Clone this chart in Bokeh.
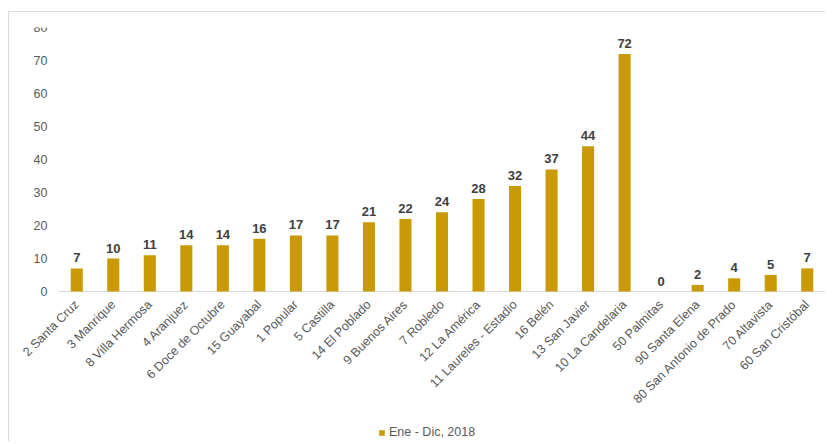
from bokeh.plotting import figure
from bokeh.models import ColumnDataSource, Legend, LegendItem, LabelSet, FixedTicker, Range1d
from bokeh.embed import file_html
from bokeh.resources import INLINE
from bokeh.core.properties import value
import math

comunas = ["2 Santa Cruz", "3 Manrique", "8 Villa Hermosa", "4 Aranjuez", "6 Doce de Octubre",
           "15 Guayabal", "1 Popular", "5 Castilla", "14 El Poblado", "9 Buenos Aires",
           "7 Robledo", "12 La América", "11 Laureles - Estadio", "16 Belén", "13 San Javier",
           "10 La Candelaria", "50 Palmitas", "90 Santa Elena", "80 San Antonio de Prado",
           "70 Altavista", "60 San Cristóbal"]
casos = [7, 10, 11, 14, 14, 16, 17, 17, 21, 22, 24, 28, 32, 37, 44, 72, 0, 2, 4, 5, 7]
serie = "Ene - Dic, 2018"
y_ticks = [0, 10, 20, 30, 40, 50, 60, 70, 80]

GOLD = "#C99A06"
FONT = "Liberation Sans"

n = len(comunas)
pos = list(range(n))

# value scale 0..80 uses the top 264 px of the frame; below zero sit the
# category labels and the legend. Extra room on the left keeps the first
# rotated label inside the frame.
FRAME_H = 414
PX_PER_UNIT = 264 / 80
y_top = 80
y_bottom = y_top - FRAME_H / PX_PER_UNIT
PX_PER_CAT = 767 / n
LEFT_EXTRA = 43
x_start = -0.5 - LEFT_EXTRA / PX_PER_CAT
x_end = n - 0.5
FRAME_W = round((x_end - x_start) * PX_PER_CAT)

src = ColumnDataSource(dict(x=pos, y=casos, lbl=[str(v) for v in casos]))

p = figure(x_range=Range1d(x_start, x_end), y_range=Range1d(y_bottom, y_top),
           frame_width=FRAME_W, frame_height=FRAME_H,
           output_backend="svg", toolbar_location=None,
           min_border_left=6, min_border_right=0, min_border_top=15, min_border_bottom=0,
           styles={"margin-left": "8px", "margin-top": "11px",
                   "border-top": "1px solid #d9d9d9", "border-left": "1px solid #d9d9d9"})

# zero line under the bars, spanning the categories
p.line(x=[-0.5, n - 0.5], y=[0, 0], line_color="#d9d9d9", line_width=1)

r = p.vbar(x="x", top="y", bottom=0, width=0.33, source=src, fill_color=GOLD, line_color=None)

labels = LabelSet(x="x", y="y", text="lbl", source=src, text_align="center",
                  text_baseline="bottom", y_offset=6, text_font=value(FONT),
                  text_font_size="13px", text_font_style="bold", text_color="#404040")
p.add_layout(labels)

p.outline_line_color = None
p.xgrid.grid_line_color = None
p.ygrid.grid_line_color = None

p.yaxis.fixed_location = -0.5
p.yaxis.ticker = FixedTicker(ticks=y_ticks)
p.yaxis.axis_line_color = None
p.yaxis.major_tick_line_color = None
p.yaxis.minor_tick_line_color = None
p.yaxis.major_tick_out = 0
p.yaxis.major_tick_in = 0
p.yaxis.major_label_standoff = 11
p.yaxis.major_label_text_font = FONT
p.yaxis.major_label_text_font_size = "12.5px"
p.yaxis.major_label_text_color = "#595959"

p.xaxis.fixed_location = 0
p.xaxis.ticker = FixedTicker(ticks=pos)
p.xaxis.major_label_overrides = {i: c for i, c in zip(pos, comunas)}
p.xaxis.axis_line_color = None
p.xaxis.major_tick_line_color = None
p.xaxis.minor_tick_line_color = None
p.xaxis.major_tick_out = 0
p.xaxis.major_tick_in = 0
p.xaxis.major_label_orientation = math.pi / 4
p.xaxis.major_label_standoff = 11
p.xaxis.major_label_text_font = FONT
p.xaxis.major_label_text_font_size = "12.5px"
p.xaxis.major_label_text_color = "#595959"

legend = Legend(items=[LegendItem(label=serie, renderers=[r])], location=(320 + LEFT_EXTRA, 2),
                orientation="horizontal", border_line_color=None, background_fill_alpha=0,
                label_text_font=FONT, label_text_font_size="12.5px", label_text_color="#595959",
                glyph_width=7, glyph_height=7, label_standoff=4, label_height=13,
                padding=1, margin=0, spacing=0)
p.add_layout(legend)

open("out.html", "w").write(file_html(p, INLINE))
